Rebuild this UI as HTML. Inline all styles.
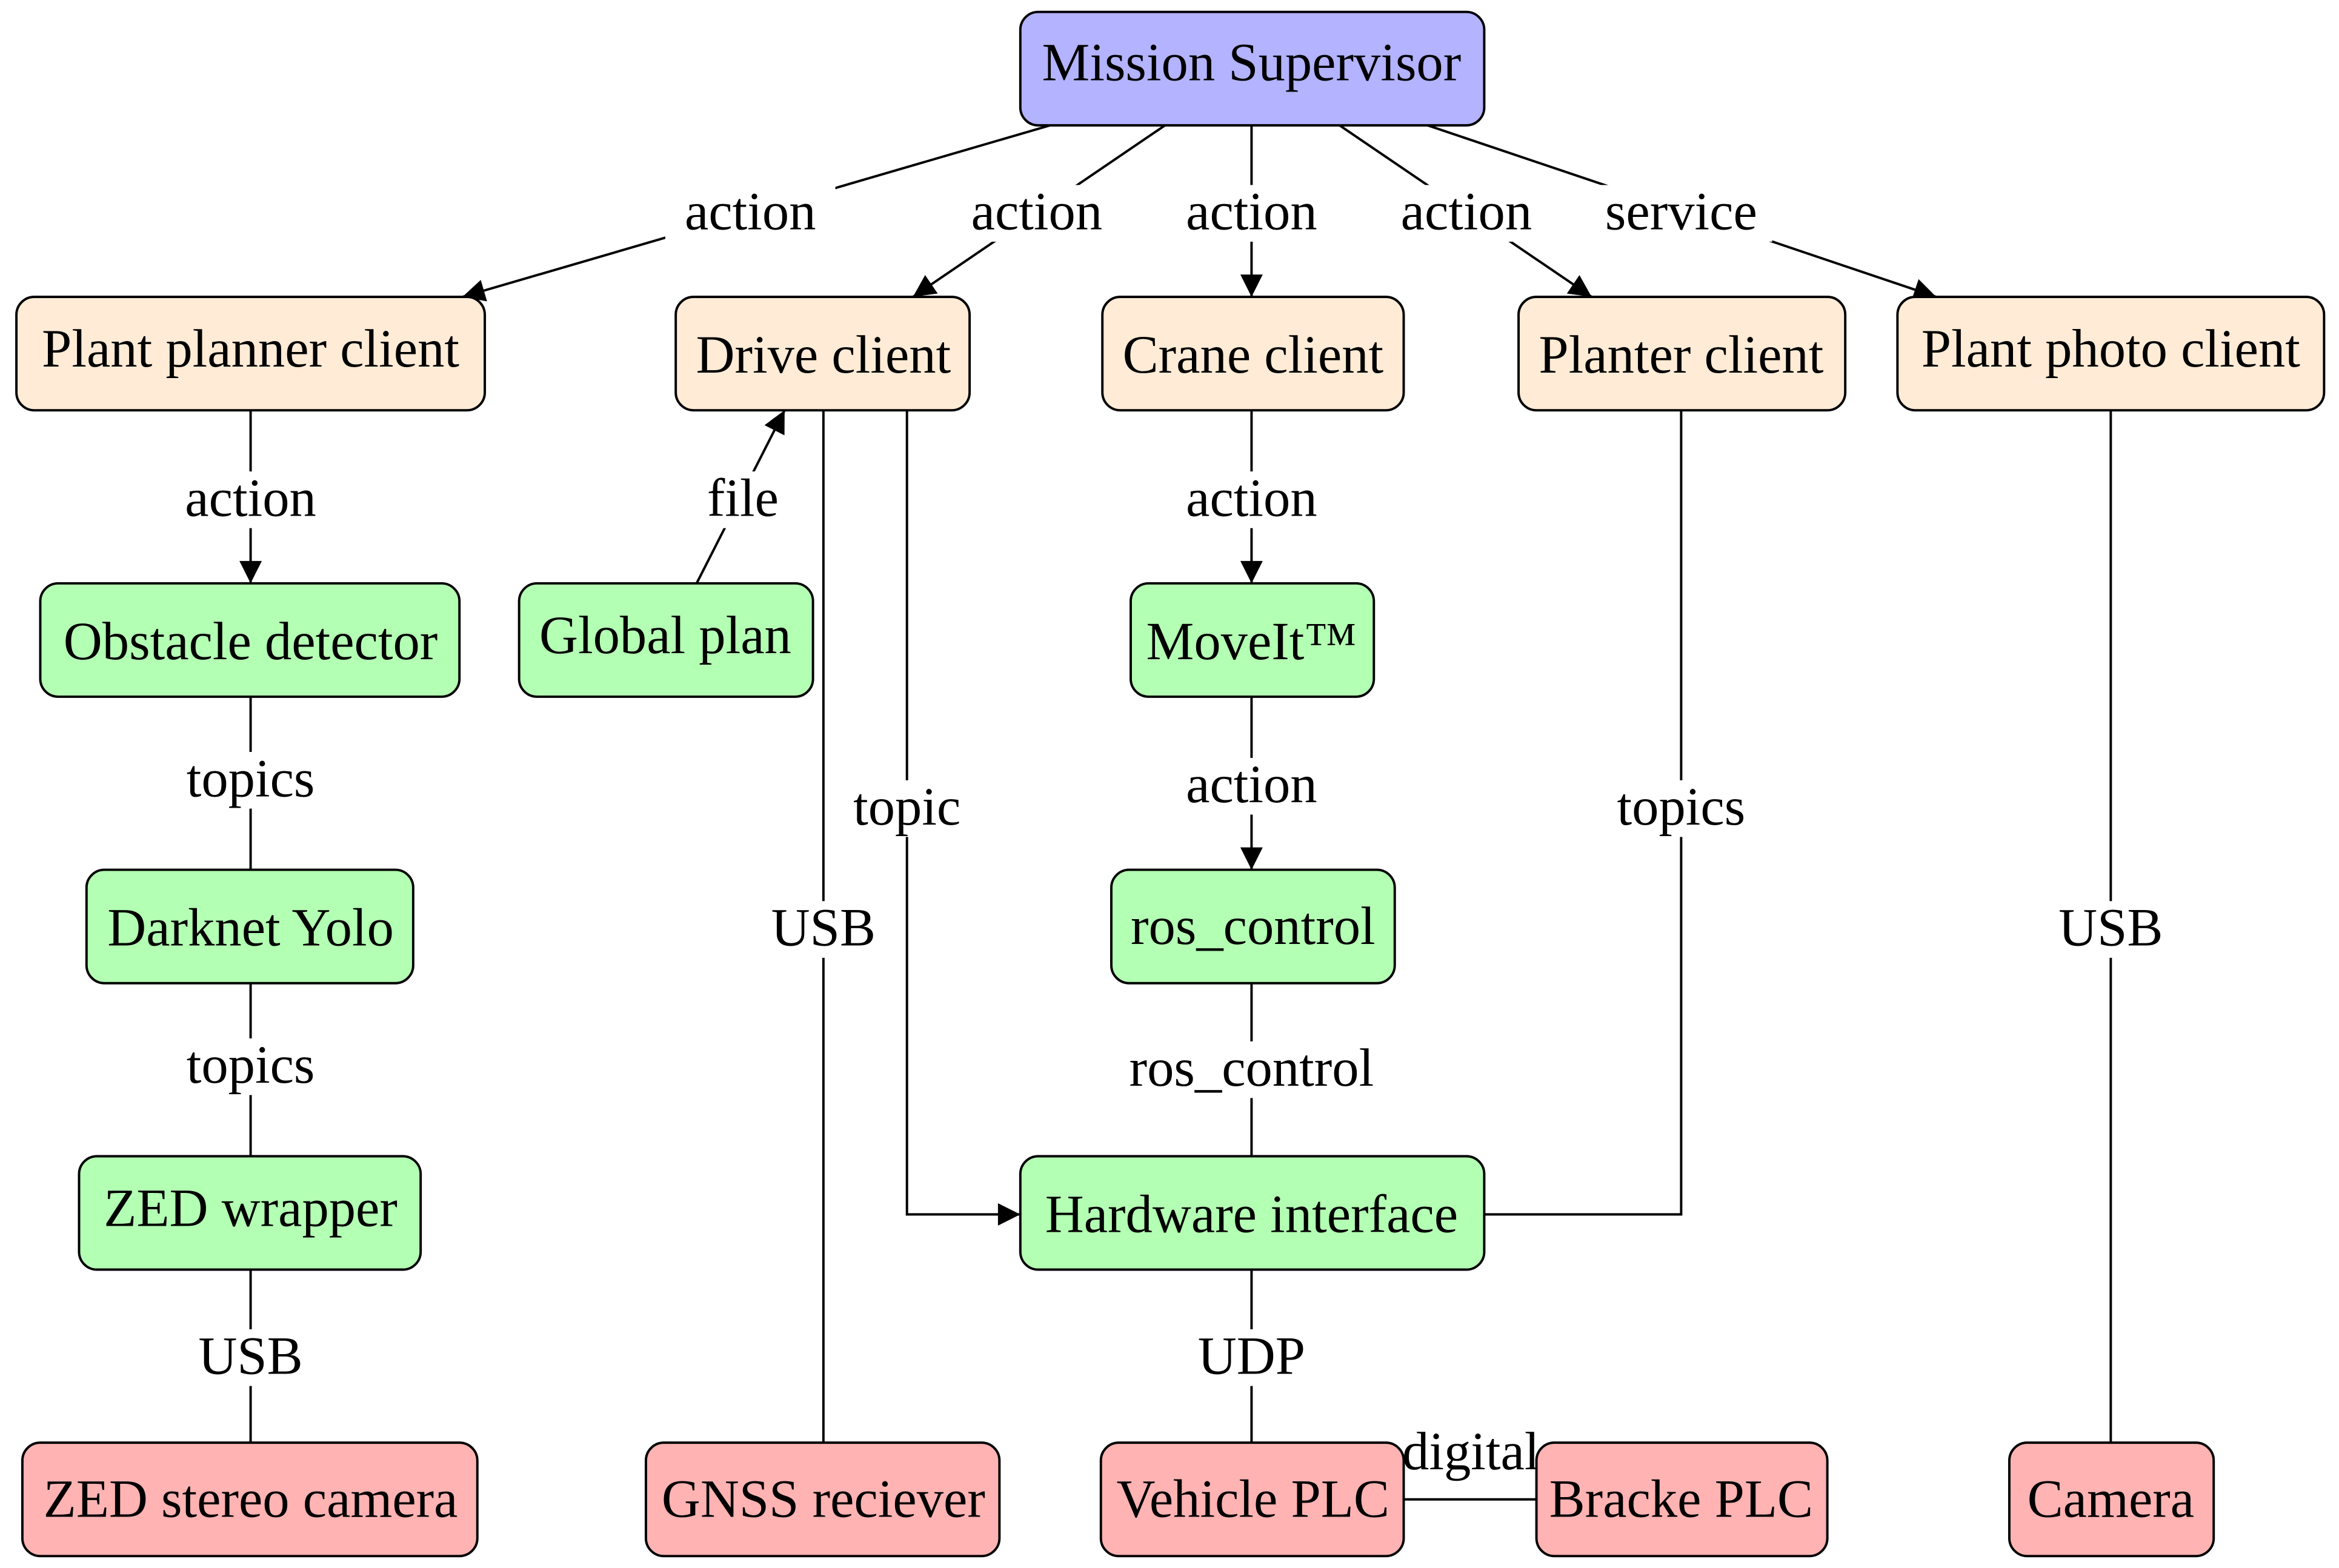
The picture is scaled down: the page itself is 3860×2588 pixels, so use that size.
<!DOCTYPE html>
<html><head><style>html,body{margin:0;padding:0;background:#fff}svg{display:block}</style></head><body>
<svg width="3860" height="2588" viewBox="0 0 1568 1051" preserveAspectRatio="none" xmlns="http://www.w3.org/2000/svg" font-family="'Liberation Serif', serif" font-size="36">
<defs>
<marker id="b" viewBox="0 0 10 10" refX="10" refY="5" markerWidth="18" markerHeight="15" markerUnits="userSpaceOnUse" orient="auto"><path d="M0,0 L10,5 L0,10 z" fill="#000"/></marker></defs>
<g stroke="#000" stroke-width="1.6" fill="none">
<line x1="704" y1="84" x2="310" y2="199" marker-end="url(#b)"/>
<line x1="781" y1="84" x2="612" y2="199" marker-end="url(#b)"/>
<line x1="839" y1="84" x2="839" y2="199" marker-end="url(#b)"/>
<line x1="898" y1="84" x2="1067" y2="199" marker-end="url(#b)"/>
<line x1="957" y1="84" x2="1298" y2="199" marker-end="url(#b)"/>
<line x1="168" y1="275" x2="168" y2="391" marker-end="url(#b)"/>
<line x1="467" y1="391" x2="526" y2="275" marker-end="url(#b)"/>
<line x1="552" y1="275" x2="552" y2="967"/>
<polyline points="608,275 608,814 684,814" marker-end="url(#b)"/>
<line x1="839" y1="275" x2="839" y2="391" marker-end="url(#b)"/>
<line x1="839" y1="467" x2="839" y2="583" marker-end="url(#b)"/>
<line x1="839" y1="659" x2="839" y2="775"/>
<line x1="839" y1="851" x2="839" y2="967"/>
<polyline points="1127,275 1127,814 995,814"/>
<line x1="1415" y1="275" x2="1415" y2="967"/>
<line x1="168" y1="467" x2="168" y2="583"/>
<line x1="168" y1="659" x2="168" y2="775"/>
<line x1="168" y1="851" x2="168" y2="967"/>
<line x1="941" y1="1005" x2="1030" y2="1005"/>
</g>
<g fill="#fff">
<rect x="446" y="124" width="114" height="38"/><rect x="640" y="124" width="112" height="38"/><rect x="785" y="124" width="108" height="38"/><rect x="929" y="124" width="108" height="38"/><rect x="1066" y="124" width="122" height="38"/>
<rect x="115" y="316" width="106" height="38"/><rect x="472" y="316" width="54" height="38"/><rect x="785" y="316" width="108" height="38"/>
<rect x="115" y="504" width="106" height="38"/><rect x="785" y="508" width="108" height="38"/><rect x="562" y="523" width="92" height="38"/><rect x="1076" y="523" width="102" height="38"/>
<rect x="512" y="604" width="80" height="38"/><rect x="1375" y="604" width="80" height="38"/>
<rect x="115" y="696" width="106" height="38"/><rect x="750" y="698" width="178" height="38"/>
<rect x="128" y="891" width="80" height="38"/><rect x="797" y="891" width="84" height="38"/>
</g>
<g text-anchor="middle" dominant-baseline="central" fill="#000">
<text x="503" y="142">action</text><text x="695" y="142">action</text><text x="839" y="142">action</text><text x="983" y="142">action</text><text x="1127" y="142">service</text>
<text x="168" y="334">action</text><text x="498" y="334">file</text><text x="839" y="334">action</text>
<text x="168" y="522">topics</text><text x="839" y="526">action</text><text x="608" y="541">topic</text><text x="1127" y="541">topics</text>
<text x="552" y="622">USB</text><text x="1415" y="622">USB</text>
<text x="168" y="714">topics</text><text x="839" y="716">ros_control</text>
<text x="168" y="909">USB</text><text x="839" y="909">UDP</text>
<text x="986" y="973">digital</text>
</g>
<g stroke="#000" stroke-width="1.6">
<rect x="684" y="8" width="311" height="76" rx="12" fill="#b3b3ff"/>
<g fill="#ffebd6">
<rect x="11" y="199" width="314" height="76" rx="12"/><rect x="453" y="199" width="197" height="76" rx="12"/><rect x="739" y="199" width="202" height="76" rx="12"/><rect x="1018" y="199" width="219" height="76" rx="12"/><rect x="1272" y="199" width="286" height="76" rx="12"/>
</g>
<g fill="#b3ffb3">
<rect x="27" y="391" width="281" height="76" rx="12"/><rect x="348" y="391" width="197" height="76" rx="12"/><rect x="758" y="391" width="163" height="76" rx="12"/>
<rect x="58" y="583" width="219" height="76" rx="12"/><rect x="745" y="583" width="190" height="76" rx="12"/>
<rect x="53" y="775" width="229" height="76" rx="12"/><rect x="684" y="775" width="311" height="76" rx="12"/>
</g>
<g fill="#ffb3b3">
<rect x="15" y="967" width="305" height="76" rx="12"/><rect x="433" y="967" width="237" height="76" rx="12"/><rect x="738" y="967" width="203" height="76" rx="12"/><rect x="1030" y="967" width="195" height="76" rx="12"/><rect x="1347" y="967" width="137" height="76" rx="12"/>
</g>
</g>
<g text-anchor="middle" dominant-baseline="central" fill="#000">
<text x="839" y="42">Mission Supervisor</text>
<text x="168" y="234">Plant planner client</text><text x="552" y="238">Drive client</text><text x="840" y="238">Crane client</text><text x="1127" y="238">Planter client</text><text x="1415" y="234">Plant photo client</text>
<text x="168" y="430">Obstacle detector</text><text x="446" y="426">Global plan</text><text x="839" y="430">MoveIt™</text>
<text x="168" y="622">Darknet Yolo</text><text x="840" y="621">ros_control</text>
<text x="168" y="810">ZED wrapper</text><text x="839" y="814">Hardware interface</text>
<text x="168" y="1005">ZED stereo camera</text><text x="552" y="1005">GNSS reciever</text><text x="840" y="1005">Vehicle PLC</text><text x="1127" y="1005">Bracke PLC</text><text x="1415" y="1005">Camera</text>
</g>
</svg>
</body></html>
